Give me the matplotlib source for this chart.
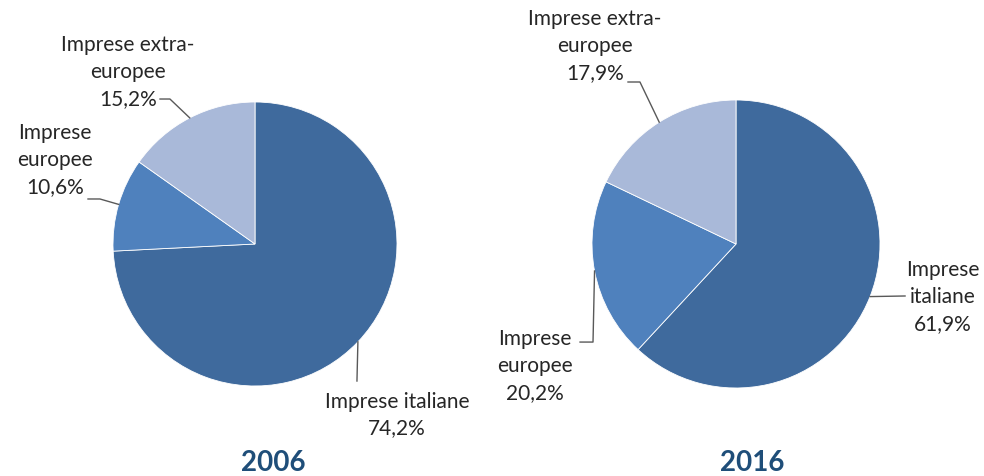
import numpy as np
import matplotlib
matplotlib.use("Agg")
import matplotlib.pyplot as plt

plt.rcParams['font.family'] = ['Lato', 'DejaVu Sans']

# --- Data ---
categories = ["Imprese italiane", "Imprese europee", "Imprese extra-europee"]
share_2006 = [74.2, 10.6, 15.2]
share_2016 = [61.9, 20.2, 17.9]
years = ["2006", "2016"]

# label text for each slice (per year, the wrapping differs)
labels_2006 = ["Imprese italiane", "Imprese\neuropee", "Imprese extra-\neuropee"]
labels_2016 = ["Imprese\nitaliane", "Imprese\neuropee", "Imprese extra-\neuropee"]

colors = ["#3F6A9D", "#4F81BD", "#A9B9D9"]
text_color = "#262626"
leader_color = "#595959"
year_color = "#1F4E79"

W, H = 984, 477
fig = plt.figure(figsize=(W / 100, H / 100), dpi=100)


def pie_axes(cx, cy, r):
    # square axes around the pie, given in pixels
    return fig.add_axes([(cx - r) / W, (H - cy - r) / H, 2 * r / W, 2 * r / H])


def fmt(v):
    return f"{v:.1f}%".replace(".", ",")


def draw_pie(ax, values, labels, text_pos, elbows):
    ax.pie(values, colors=colors, startangle=90, counterclock=False,
           radius=1, wedgeprops=dict(linewidth=0.6, edgecolor="white"))
    ax.set_xlim(-1, 1)
    ax.set_ylim(-1, 1)
    ax.set_aspect("auto")
    ax.axis("off")
    start = 0.0
    for val, lab, tp, el in zip(values, labels, text_pos, elbows):
        mid = start + val / 2
        start += val
        ang = np.deg2rad(90 - mid / 100 * 360)
        anchor = (np.cos(ang), np.sin(ang))
        ax.text(tp[0], tp[1], f"{lab}\n{fmt(val)}", ha="center", va="center",
                fontsize=15, color=text_color, linespacing=1.42, clip_on=False)
        xs = [p[0] for p in el] + [anchor[0]]
        ys = [p[1] for p in el] + [anchor[1]]
        ax.plot(xs, ys, color=leader_color, lw=1.0, clip_on=False)


# 2006
ax1 = pie_axes(255, 245, 142)
draw_pie(ax1, share_2006, labels_2006,
         text_pos=[(1.0, -1.197), (-1.408, 0.599), (-0.894, 1.218)],
         elbows=[[(0.718, -0.965)],
                 [(-1.176, 0.317), (-1.092, 0.317)],
                 [(-0.669, 1.021), (-0.599, 1.021)]])

# 2016
ax2 = pie_axes(736, 245, 144)
draw_pie(ax2, share_2016, labels_2016,
         text_pos=[(1.4375, -0.361), (-1.396, -0.840), (-0.98, 1.382)],
         elbows=[[(1.174, -0.361)],
                 [(-1.083, -0.681), (-0.993, -0.681)],
                 [(-0.75, 1.125), (-0.667, 1.125)]])

fig.text(273 / W, 1 - 463 / H, years[0], ha="center", va="center",
         fontsize=20, fontweight="bold", color=year_color)
fig.text(752 / W, 1 - 463 / H, years[1], ha="center", va="center",
         fontsize=20, fontweight="bold", color=year_color)

plt.savefig("out.png", dpi=100)
